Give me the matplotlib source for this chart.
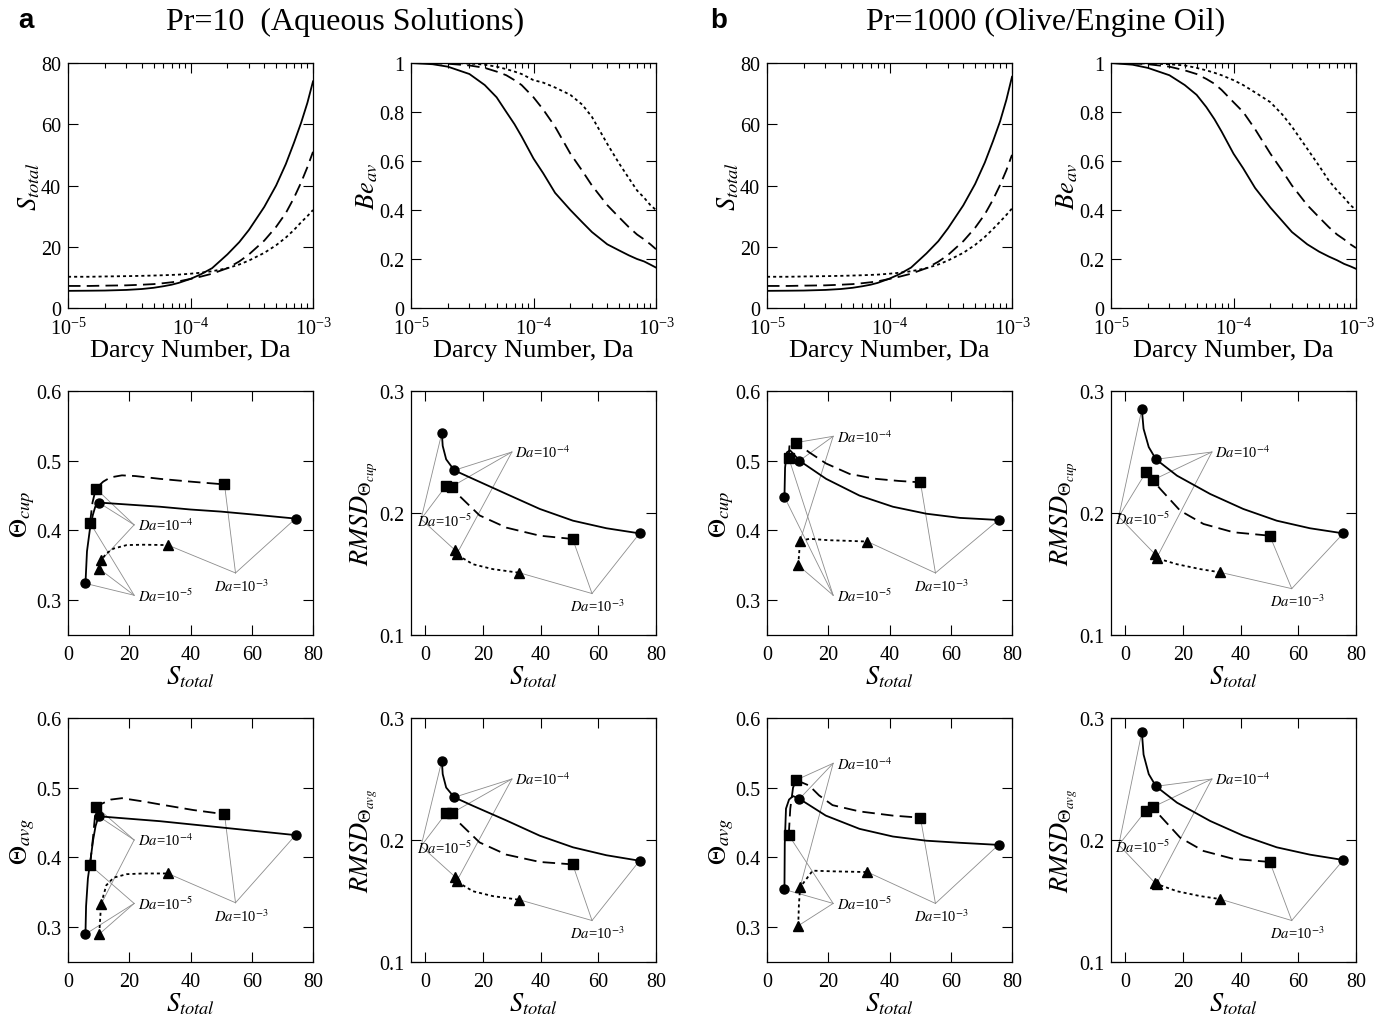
import matplotlib

matplotlib.use("Agg")
import matplotlib.pyplot as plt
from matplotlib.ticker import FuncFormatter, LogLocator, NullFormatter

plt.rcParams["font.family"] = ["Liberation Serif", "DejaVu Serif"]
plt.rcParams["mathtext.fontset"] = "stix"
plt.rcParams["lines.scale_dashes"] = False

# ---- top row: entropy generation and Bejan number vs Darcy number ----
da = [1e-5, 1.5e-5, 2e-5, 3e-5, 4e-5, 5e-5, 6e-5, 7e-5, 8e-5, 1e-4, 1.2e-4,
      1.5e-4, 2e-4, 2.5e-4, 3e-4, 4e-4, 5e-4, 6e-4, 7e-4, 8e-4, 9e-4, 1e-3]

s10_solid = [5.6, 5.65, 5.7, 5.9, 6.2, 6.6, 7.1, 7.6, 8.2, 9.5, 10.9,
             13.0, 17.5, 21.5, 25.5, 33.0, 40.0, 47.0, 54.0, 60.5, 67.0, 74.0]
s10_dashed = [7.2, 7.2, 7.3, 7.4, 7.6, 7.8, 8.1, 8.4, 8.7, 9.5, 10.2,
              11.2, 13.0, 15.2, 17.5, 22.0, 26.5, 31.0, 36.0, 41.0, 46.0, 51.0]
s10_dotted = [10.2, 10.2, 10.3, 10.4, 10.5, 10.6, 10.7, 10.8, 10.9, 11.2, 11.5,
              12.0, 13.0, 14.2, 15.5, 18.0, 20.5, 23.0, 25.5, 28.0, 30.0, 32.0]
be10_solid = [1.0, 0.995, 0.985, 0.955, 0.91, 0.86, 0.80, 0.75, 0.70, 0.61, 0.55,
              0.47, 0.40, 0.35, 0.31, 0.26, 0.235, 0.215, 0.20, 0.19, 0.177, 0.165]
be10_dashed = [1.0, 0.999, 0.997, 0.99, 0.98, 0.965, 0.95, 0.93, 0.91, 0.86, 0.81,
               0.74, 0.63, 0.56, 0.50, 0.42, 0.37, 0.33, 0.30, 0.28, 0.26, 0.24]
be10_dotted = [1.0, 1.0, 1.0, 0.998, 0.993, 0.985, 0.975, 0.965, 0.955, 0.93, 0.92,
               0.90, 0.87, 0.83, 0.78, 0.67, 0.59, 0.53, 0.48, 0.45, 0.42, 0.40]

s1000_solid = [5.6, 5.65, 5.7, 5.9, 6.2, 6.6, 7.1, 7.6, 8.2, 9.6, 11.0,
               13.2, 17.8, 21.8, 26.0, 33.5, 40.5, 47.5, 54.5, 61.0, 68.0, 75.5]
s1000_dashed = [7.2, 7.2, 7.3, 7.4, 7.6, 7.8, 8.1, 8.4, 8.7, 9.5, 10.2,
                11.2, 13.0, 15.1, 17.3, 21.8, 26.2, 30.6, 35.4, 40.2, 45.0, 50.0]
s1000_dotted = [10.2, 10.2, 10.3, 10.4, 10.5, 10.6, 10.7, 10.8, 10.9, 11.2, 11.5,
                12.0, 13.0, 14.2, 15.5, 18.0, 20.6, 23.2, 25.8, 28.2, 30.4, 32.5]
be1000_solid = [1.0, 0.993, 0.98, 0.95, 0.91, 0.87, 0.82, 0.77, 0.72, 0.63, 0.57,
                0.49, 0.41, 0.355, 0.31, 0.26, 0.23, 0.21, 0.195, 0.18, 0.17, 0.16]
be1000_dashed = [1.0, 0.998, 0.995, 0.985, 0.97, 0.955, 0.935, 0.915, 0.89, 0.84, 0.80,
                 0.73, 0.63, 0.56, 0.50, 0.42, 0.37, 0.33, 0.30, 0.28, 0.26, 0.245]
be1000_dotted = [1.0, 0.999, 0.998, 0.995, 0.99, 0.98, 0.97, 0.96, 0.95, 0.93, 0.91,
                 0.88, 0.84, 0.79, 0.74, 0.65, 0.58, 0.52, 0.48, 0.45, 0.42, 0.40]

# ---- trade-off panels: (S_total, value) curves, markers at Da = 1e-5, 1e-4, 1e-3 ----
mark_s10 = {"solid": [5.7, 10.0, 74.3], "dashed": [7.2, 9.1, 51.1], "dotted": [10.2, 10.8, 32.6]}
mark_s1000 = {"solid": [5.7, 10.6, 75.6], "dashed": [7.1, 9.5, 50.1], "dotted": [10.2, 10.8, 32.8]}

cup10_curves = {
    "solid": ([5.7, 6.2, 7.1, 8.1, 8.9, 10.0, 20, 30, 40, 50, 60, 74.3],
              [0.324, 0.37, 0.40, 0.422, 0.434, 0.44, 0.437, 0.434, 0.430, 0.427, 0.423, 0.417]),
    "dashed": ([7.2, 8.0, 9.1, 11.5, 13.8, 17.6, 22, 30, 40, 51.1],
               [0.411, 0.44, 0.46, 0.47, 0.476, 0.479, 0.478, 0.474, 0.470, 0.466]),
    "dotted": ([10.2, 10.8, 12.5, 14.9, 19.2, 24.6, 32.6],
               [0.345, 0.357, 0.367, 0.374, 0.379, 0.3795, 0.379]),
}
cup10_marks = {"solid": [0.324, 0.44, 0.417], "dashed": [0.411, 0.46, 0.466], "dotted": [0.345, 0.357, 0.379]}
cup10_anchors = [(21.6, 0.307), (21.6, 0.408), (54.7, 0.339)]

rcup10_curves = {
    "solid": ([5.7, 6.0, 7.2, 10.0, 16.5, 28.1, 39.7, 51.2, 62.8, 74.3],
              [0.2656, 0.255, 0.244, 0.235, 0.228, 0.2156, 0.2033, 0.1937, 0.1875, 0.1833]),
    "dashed": ([7.2, 9.1, 11.8, 18.8, 28.1, 39.7, 51.1],
               [0.2224, 0.2216, 0.214, 0.198, 0.188, 0.1814, 0.1787]),
    "dotted": ([10.2, 10.8, 16.5, 23.4, 32.6],
               [0.1697, 0.166, 0.158, 0.154, 0.151]),
}
rcup10_marks = {"solid": [0.2656, 0.235, 0.1833], "dashed": [0.2224, 0.2216, 0.1787], "dotted": [0.1697, 0.166, 0.151]}
rcup10_anchors = [(-1.5, 0.195), (30.0, 0.250), (57.8, 0.134)]

avg10_curves = {
    "solid": ([5.7, 5.9, 6.5, 7.3, 8.2, 9.0, 10.0, 30, 50, 74.3],
              [0.29, 0.33, 0.37, 0.395, 0.425, 0.445, 0.459, 0.452, 0.443, 0.432]),
    "dashed": ([7.2, 8.2, 9.1, 12, 14, 17.6, 25, 30.1, 40.9, 51.1],
               [0.389, 0.43, 0.473, 0.479, 0.483, 0.485, 0.480, 0.476, 0.468, 0.462]),
    "dotted": ([10.2, 10.8, 12.5, 14.9, 19.2, 24.6, 32.6],
               [0.29, 0.333, 0.36, 0.371, 0.376, 0.377, 0.377]),
}
avg10_marks = {"solid": [0.29, 0.459, 0.432], "dashed": [0.389, 0.473, 0.462], "dotted": [0.29, 0.333, 0.377]}
avg10_anchors = [(21.6, 0.334), (21.6, 0.425), (54.7, 0.335)]

ravg10_curves = {
    "solid": ([5.7, 6.0, 7.2, 10.0, 16.5, 28.1, 39.7, 51.2, 62.8, 74.3],
              [0.265, 0.254, 0.243, 0.235, 0.228, 0.216, 0.2035, 0.194, 0.1875, 0.183]),
    "dashed": ([7.2, 9.1, 11.8, 18.8, 28.1, 39.7, 51.1],
               [0.222, 0.222, 0.214, 0.198, 0.188, 0.182, 0.180]),
    "dotted": ([10.2, 10.8, 16.5, 23.4, 32.6],
               [0.170, 0.166, 0.158, 0.154, 0.151]),
}
ravg10_marks = {"solid": [0.265, 0.235, 0.183], "dashed": [0.222, 0.222, 0.180], "dotted": [0.170, 0.166, 0.151]}
ravg10_anchors = [(-1.5, 0.195), (30.0, 0.250), (57.8, 0.134)]

cup1000_curves = {
    "solid": ([5.7, 5.9, 6.5, 7.5, 9.0, 10.6, 19.3, 30.2, 41.1, 52.0, 63, 75.6],
              [0.448, 0.49, 0.512, 0.515, 0.508, 0.50, 0.474, 0.450, 0.434, 0.424, 0.418, 0.415]),
    "dashed": ([7.1, 7.3, 7.8, 9.5, 13.8, 19.3, 27, 35.6, 43, 50.1],
               [0.504, 0.52, 0.53, 0.526, 0.512, 0.496, 0.481, 0.474, 0.471, 0.469]),
    "dotted": ([10.2, 10.8, 13.9, 20, 27, 32.8],
               [0.350, 0.385, 0.388, 0.386, 0.385, 0.384]),
}
cup1000_marks = {"solid": [0.448, 0.50, 0.415], "dashed": [0.504, 0.526, 0.469], "dotted": [0.350, 0.385, 0.384]}
cup1000_anchors = [(21.6, 0.307), (21.6, 0.535), (55.0, 0.339)]

rcup1000_curves = {
    "solid": ([5.7, 6.3, 8.1, 10.6, 17.9, 29.4, 40.9, 52.5, 64, 75.6],
              [0.285, 0.269, 0.254, 0.244, 0.2306, 0.2156, 0.2033, 0.1937, 0.1875, 0.1833]),
    "dashed": ([7.1, 9.5, 12.1, 19, 27.1, 37.5, 50.1],
               [0.2333, 0.227, 0.2197, 0.2019, 0.191, 0.1842, 0.1814]),
    "dotted": ([10.2, 10.8, 17.9, 26, 32.8],
               [0.1664, 0.163, 0.158, 0.154, 0.1514]),
}
rcup1000_marks = {"solid": [0.285, 0.244, 0.1833], "dashed": [0.2333, 0.227, 0.1814], "dotted": [0.1664, 0.163, 0.1514]}
rcup1000_anchors = [(-2.3, 0.197), (30.0, 0.250), (57.7, 0.138)]

avg1000_curves = {
    "solid": ([5.7, 5.8, 6.2, 7.2, 8.5, 10.6, 19.2, 30.2, 41.1, 52, 63, 75.6],
              [0.354, 0.42, 0.47, 0.483, 0.488, 0.484, 0.46, 0.441, 0.430, 0.424, 0.421, 0.418]),
    "dashed": ([7.1, 7.6, 8.5, 9.5, 13.8, 17, 21.4, 30.2, 41.1, 50.1],
               [0.432, 0.47, 0.50, 0.511, 0.503, 0.489, 0.475, 0.466, 0.460, 0.457]),
    "dotted": ([10.2, 10.4, 10.8, 14.9, 22, 32.8],
               [0.302, 0.33, 0.357, 0.381, 0.380, 0.379]),
}
avg1000_marks = {"solid": [0.354, 0.484, 0.418], "dashed": [0.432, 0.511, 0.457], "dotted": [0.302, 0.357, 0.379]}
avg1000_anchors = [(21.6, 0.334), (21.6, 0.535), (55.0, 0.334)]

ravg1000_curves = {
    "solid": ([5.7, 6.3, 8.1, 10.6, 17.9, 29.4, 40.9, 52.5, 64, 75.6],
              [0.2885, 0.270, 0.254, 0.244, 0.2306, 0.2156, 0.2035, 0.194, 0.188, 0.1836]),
    "dashed": ([7.1, 9.5, 12.1, 19, 27.1, 37.5, 50.1],
               [0.224, 0.227, 0.2197, 0.2019, 0.191, 0.1845, 0.182]),
    "dotted": ([10.2, 10.8, 17.9, 26, 32.8],
               [0.165, 0.164, 0.158, 0.154, 0.1516]),
}
ravg1000_marks = {"solid": [0.2885, 0.244, 0.1836], "dashed": [0.224, 0.227, 0.182], "dotted": [0.165, 0.164, 0.1516]}
ravg1000_anchors = [(-2.3, 0.196), (30.0, 0.250), (57.7, 0.134)]

da_labels = [r"$Da$=10$^{-5}$", r"$Da$=10$^{-4}$", r"$Da$=10$^{-3}$"]

LINE = {
    "solid": dict(color="black", lw=1.3, linestyle="-"),
    "dashed": dict(color="black", lw=1.3, linestyle=(0, (9, 4.5))),
    "dotted": dict(color="black", lw=1.3, linestyle=(0, (2.2, 2.2))),
}
MARK = {"solid": "o", "dashed": "s", "dotted": "^"}

W, H = 1384, 1020
COLS = [(68, 313), (411, 656), (767, 1012), (1111, 1356)]
ROWS = [(64, 309), (392, 636), (719, 963)]

fig = plt.figure(figsize=(W / 100, H / 100), dpi=100)


def add_ax(r, c):
    left, right = COLS[c]
    top, bottom = ROWS[r]
    return fig.add_axes([left / W, 1 - bottom / H, (right - left) / W, (bottom - top) / H])


def style(ax):
    ax.tick_params(which="both", direction="in", top=True, right=True, width=0.8,
                   labelsize=14.5)
    ax.tick_params(axis="x", pad=7)
    ax.tick_params(axis="y", pad=5)
    ax.tick_params(which="major", length=7)
    ax.tick_params(which="minor", length=3.5)
    for sp in ax.spines.values():
        sp.set_linewidth(0.9)


gfmt = FuncFormatter(lambda v, _: f"{v:g}")


def top_panel(ax, ys, ylim, yticks, ylabel):
    for key, y in zip(("solid", "dashed", "dotted"), ys):
        ax.plot(da, y, **LINE[key])
    ax.set_xscale("log")
    ax.set_xlim(1e-5, 1e-3)
    ax.set_ylim(*ylim)
    ax.set_yticks(yticks)
    ax.yaxis.set_major_formatter(gfmt)
    ax.xaxis.set_minor_locator(LogLocator(base=10, subs=range(2, 10)))
    ax.xaxis.set_minor_formatter(NullFormatter())
    ax.set_xlabel("Darcy Number, Da", fontsize=19, labelpad=0)
    ax.set_ylabel(ylabel, fontsize=19, labelpad=-1)
    style(ax)


def trade_panel(ax, curves, mark_s, marks, anchors, rmsd, ylabel):
    keys = ("solid", "dashed", "dotted")
    for i, (ax_x, ax_y) in enumerate(anchors):
        for key in keys:
            ax.plot([mark_s[key][i], ax_x], [marks[key][i], ax_y], color="0.55", lw=0.6, zorder=1)
    for key in keys:
        xs, ys = curves[key]
        ax.plot(xs, ys, zorder=2, **LINE[key])
        ax.plot(mark_s[key], marks[key], MARK[key], color="black", ms=6.5, zorder=3, lw=0)
    for i, (txt, anc) in enumerate(zip(da_labels, anchors)):
        if i == 2:
            off, ha, va = (4, -3), "center", "top"
        elif i == 0 and rmsd:
            off, ha, va = (-3, -1), "left", "center"
        else:
            off, ha, va = (2.5, 0), "left", "center"
        ax.annotate(txt, xy=anc, xytext=off, textcoords="offset points",
                    ha=ha, va=va, fontsize=10.5, zorder=4)
    if rmsd:
        ax.set_xlim(-5, 80)
        ax.set_ylim(0.1, 0.3)
        ax.set_yticks([0.1, 0.2, 0.3])
    else:
        ax.set_xlim(0, 80)
        ax.set_ylim(0.25, 0.6)
        ax.set_yticks([0.3, 0.4, 0.5, 0.6])
    ax.set_xticks([0, 20, 40, 60, 80])
    ax.yaxis.set_major_formatter(gfmt)
    ax.set_xlabel(r"$S_{total}$", fontsize=19, labelpad=0)
    ax.set_ylabel(ylabel, fontsize=19, labelpad=-1)
    style(ax)


top_panel(add_ax(0, 0), (s10_solid, s10_dashed, s10_dotted), (0, 80), [0, 20, 40, 60, 80], r"$S_{total}$")
top_panel(add_ax(0, 1), (be10_solid, be10_dashed, be10_dotted), (0, 1), [0, 0.2, 0.4, 0.6, 0.8, 1], r"$Be_{av}$")
top_panel(add_ax(0, 2), (s1000_solid, s1000_dashed, s1000_dotted), (0, 80), [0, 20, 40, 60, 80], r"$S_{total}$")
top_panel(add_ax(0, 3), (be1000_solid, be1000_dashed, be1000_dotted), (0, 1), [0, 0.2, 0.4, 0.6, 0.8, 1], r"$Be_{av}$")

trade_panel(add_ax(1, 0), cup10_curves, mark_s10, cup10_marks, cup10_anchors, False, r"$\Theta_{cup}$")
trade_panel(add_ax(1, 1), rcup10_curves, mark_s10, rcup10_marks, rcup10_anchors, True, r"$RMSD_{\Theta_{cup}}$")
trade_panel(add_ax(2, 0), avg10_curves, mark_s10, avg10_marks, avg10_anchors, False, r"$\Theta_{avg}$")
trade_panel(add_ax(2, 1), ravg10_curves, mark_s10, ravg10_marks, ravg10_anchors, True, r"$RMSD_{\Theta_{avg}}$")
trade_panel(add_ax(1, 2), cup1000_curves, mark_s1000, cup1000_marks, cup1000_anchors, False, r"$\Theta_{cup}$")
trade_panel(add_ax(1, 3), rcup1000_curves, mark_s1000, rcup1000_marks, rcup1000_anchors, True, r"$RMSD_{\Theta_{cup}}$")
trade_panel(add_ax(2, 2), avg1000_curves, mark_s1000, avg1000_marks, avg1000_anchors, False, r"$\Theta_{avg}$")
trade_panel(add_ax(2, 3), ravg1000_curves, mark_s1000, ravg1000_marks, ravg1000_anchors, True, r"$RMSD_{\Theta_{avg}}$")

fig.text(18 / W, 1 - 21 / H, "a", fontsize=20, fontweight="bold", family="Liberation Sans", va="center")
fig.text(710 / W, 1 - 21 / H, "b", fontsize=20, fontweight="bold", family="Liberation Sans", va="center")
fig.text(345 / W, 1 - 22 / H, "Pr=10  (Aqueous Solutions)", fontsize=23, ha="center", va="center")
fig.text(1046 / W, 1 - 22 / H, "Pr=1000 (Olive/Engine Oil)", fontsize=23, ha="center", va="center")

fig.savefig("out.png", dpi=100)
